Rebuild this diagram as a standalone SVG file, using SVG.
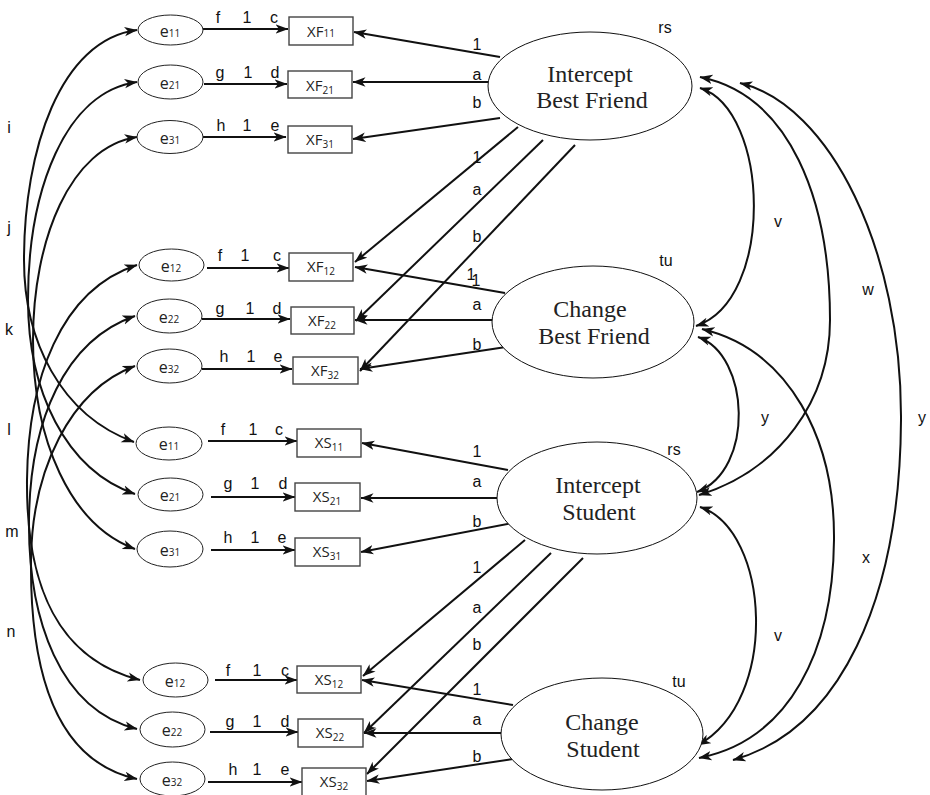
<svg xmlns="http://www.w3.org/2000/svg" width="930" height="795" viewBox="0 0 930 795">
<defs>
<marker id="ah" markerUnits="userSpaceOnUse" markerWidth="14" markerHeight="11" refX="12.5" refY="5" orient="auto-start-reverse">
<path d="M0,0.3 L13,5 L0,9.7 L3.5,5 z" fill="#111"/>
</marker>
<style>
.ln{fill:none;stroke:#111;stroke-width:2;marker-end:url(#ah)}
.dbl{fill:none;stroke:#111;stroke-width:2;marker-start:url(#ah);marker-end:url(#ah)}
.lat{fill:#fff;stroke:#111;stroke-width:1}
.err{fill:#fff;stroke:#222;stroke-width:1}
.box{fill:#fff;stroke:#444;stroke-width:1.4}
.t{font-family:"Liberation Sans",Arial,sans-serif;font-size:16px;fill:#111;text-anchor:middle}
.s{font-family:"Liberation Sans",Arial,sans-serif;font-size:16px;fill:#111;text-anchor:middle}
.big{font-family:"Liberation Serif","Times New Roman",serif;font-size:24px;fill:#222;text-anchor:middle}
.ev{font-family:"Open Sans",sans-serif;font-size:16px;fill:#222;text-anchor:middle}
.sub{font-size:10px}
.xv{font-family:"Open Sans",sans-serif;font-size:15px;fill:#222;text-anchor:middle}
</style>
</defs>
<rect width="930" height="795" fill="#fff"/>

<g id="connectors">
<path class="dbl" d="M137,30 C60,40 24,150 24,260 C24,340 60,415 134,442"/>
<path class="dbl" d="M137,82 C65,92 28,190 28,300 C28,390 65,470 135,494"/>
<path class="dbl" d="M137,137 C70,147 33,240 33,340 C33,440 70,525 135,549"/>
<path class="dbl" d="M137,265 C60,290 28,380 27,480 C26,590 60,660 140,680"/>
<path class="dbl" d="M135,316 C65,340 30,420 29,520 C28,620 60,710 137,729"/>
<path class="dbl" d="M135,366 C70,390 32,470 31,560 C30,660 50,760 137,779"/>
<line class="ln" x1="203" y1="29" x2="288" y2="29"/>
<line class="ln" x1="204" y1="84" x2="287" y2="84"/>
<line class="ln" x1="203" y1="137" x2="286" y2="137"/>
<line class="ln" x1="207" y1="268" x2="289" y2="268"/>
<line class="ln" x1="202" y1="319" x2="290" y2="319"/>
<line class="ln" x1="202" y1="369" x2="292" y2="369"/>
<line class="ln" x1="208" y1="441" x2="297" y2="441"/>
<line class="ln" x1="211" y1="497" x2="295" y2="497"/>
<line class="ln" x1="211" y1="550" x2="295" y2="550"/>
<line class="ln" x1="215" y1="680" x2="297" y2="680"/>
<line class="ln" x1="210" y1="732" x2="298" y2="732"/>
<line class="ln" x1="208" y1="782" x2="302" y2="782"/>
<line class="ln" x1="500" y1="57" x2="354" y2="32"/>
<line class="ln" x1="488" y1="82" x2="353" y2="82"/>
<line class="ln" x1="500" y1="118" x2="353" y2="139"/>
<line class="ln" x1="518" y1="127" x2="355" y2="262"/>
<line class="ln" x1="543" y1="140" x2="356" y2="321"/>
<line class="ln" x1="575" y1="145" x2="360" y2="371"/>
<line class="ln" x1="505" y1="293" x2="355" y2="267"/>
<line class="ln" x1="493" y1="320" x2="355" y2="320"/>
<line class="ln" x1="506" y1="347" x2="360" y2="369"/>
<line class="ln" x1="508" y1="470" x2="362" y2="443"/>
<line class="ln" x1="497" y1="498" x2="361" y2="498"/>
<line class="ln" x1="513" y1="523" x2="361" y2="552"/>
<line class="ln" x1="525" y1="540" x2="363" y2="676"/>
<line class="ln" x1="551" y1="553" x2="364" y2="733"/>
<line class="ln" x1="583" y1="558" x2="367" y2="774"/>
<line class="ln" x1="513" y1="705" x2="362" y2="680"/>
<line class="ln" x1="501" y1="733" x2="364" y2="733"/>
<line class="ln" x1="513" y1="759" x2="367" y2="781"/>
<path class="dbl" d="M700,88 C770,110 775,300 696,326"/>
<path class="dbl" d="M700,77 C790,95 830,200 830,320 C830,400 780,470 699,495"/>
<path class="dbl" d="M740,83 C830,105 902,250 901,420 C900,600 840,730 733,760"/>
<path class="dbl" d="M702,329 C790,350 835,440 834,540 C833,650 790,740 699,758"/>
<path class="dbl" d="M698,337 C750,355 755,470 697,492"/>
<path class="dbl" d="M700,507 C770,530 780,700 698,745"/>
</g>

<g id="connector-labels">
<text class="t" x="9" y="133">i</text>
<text class="t" x="9" y="233">j</text>
<text class="t" x="9" y="335">k</text>
<text class="t" x="9" y="435">l</text>
<text class="t" x="12" y="537">m</text>
<text class="t" x="11" y="637">n</text>

<text class="s" x="218" y="23">f</text><text class="s" x="247" y="23">1</text><text class="s" x="274" y="23">c</text>
<text class="s" x="220" y="78">g</text><text class="s" x="248" y="78">1</text><text class="s" x="275" y="78">d</text>
<text class="s" x="221" y="131">h</text><text class="s" x="247" y="131">1</text><text class="s" x="275" y="131">e</text>
<text class="s" x="220" y="261">f</text><text class="s" x="245" y="261">1</text><text class="s" x="277" y="261">c</text>
<text class="s" x="220" y="314">g</text><text class="s" x="250" y="314">1</text><text class="s" x="277" y="314">d</text>
<text class="s" x="224" y="362">h</text><text class="s" x="251" y="362">1</text><text class="s" x="278" y="362">e</text>
<text class="s" x="223" y="435">f</text><text class="s" x="253" y="435">1</text><text class="s" x="279" y="435">c</text>
<text class="s" x="228" y="489">g</text><text class="s" x="255" y="489">1</text><text class="s" x="283" y="489">d</text>
<text class="s" x="228" y="543">h</text><text class="s" x="255" y="543">1</text><text class="s" x="282" y="543">e</text>
<text class="s" x="228" y="676">f</text><text class="s" x="257" y="676">1</text><text class="s" x="285" y="676">c</text>
<text class="s" x="230" y="727">g</text><text class="s" x="257" y="727">1</text><text class="s" x="285" y="727">d</text>
<text class="s" x="233" y="775">h</text><text class="s" x="257" y="775">1</text><text class="s" x="285" y="775">e</text>

<text class="t" x="477" y="50">1</text>
<text class="t" x="477" y="80">a</text>
<text class="t" x="477" y="108">b</text>
<text class="t" x="477" y="163">1</text>
<text class="t" x="477" y="195">a</text>
<text class="t" x="477" y="242">b</text>
<text class="t" x="471" y="280">1</text>
<text class="t" x="476" y="286">1</text>
<text class="t" x="477" y="310">a</text>
<text class="t" x="477" y="350">b</text>
<text class="t" x="477" y="457">1</text>
<text class="t" x="477" y="487">a</text>
<text class="t" x="477" y="527">b</text>
<text class="t" x="477" y="573">1</text>
<text class="t" x="477" y="613">a</text>
<text class="t" x="477" y="650">b</text>
<text class="t" x="477" y="695">1</text>
<text class="t" x="477" y="725">a</text>
<text class="t" x="477" y="762">b</text>

<text class="t" x="665" y="33">rs</text>
<text class="t" x="666" y="266">tu</text>
<text class="t" x="674" y="455">rs</text>
<text class="t" x="679" y="687">tu</text>
<text class="t" x="778" y="227">v</text>
<text class="t" x="868" y="295">w</text>
<text class="t" x="765" y="423">y</text>
<text class="t" x="922" y="423">y</text>
<text class="t" x="866" y="563">x</text>
<text class="t" x="778" y="641">v</text>
</g>

<g id="IBF"><ellipse class="lat" cx="590" cy="86" rx="102" ry="54"/><text class="big" x="590" y="82">Intercept</text><text class="big" x="592" y="108">Best Friend</text></g>
<g id="CBF"><ellipse class="lat" cx="593" cy="322" rx="101" ry="56"/><text class="big" x="590" y="317">Change</text><text class="big" x="594" y="344">Best Friend</text></g>
<g id="IS"><ellipse class="lat" cx="597" cy="498" rx="100" ry="56"/><text class="big" x="598" y="493">Intercept</text><text class="big" x="599" y="520">Student</text></g>
<g id="CS"><ellipse class="lat" cx="602" cy="734" rx="101" ry="56"/><text class="big" x="602" y="730">Change</text><text class="big" x="603" y="757">Student</text></g>

<g id="eF11"><ellipse class="err" cx="170.5" cy="30" rx="32.5" ry="15"/><text class="ev" x="170" y="37">e<tspan class="sub">11</tspan></text></g>
<g id="eF21"><ellipse class="err" cx="170.5" cy="82" rx="32.5" ry="17"/><text class="ev" x="170" y="89">e<tspan class="sub">21</tspan></text></g>
<g id="eF31"><ellipse class="err" cx="170" cy="137" rx="33" ry="16.5"/><text class="ev" x="170" y="144">e<tspan class="sub">31</tspan></text></g>
<g id="eF12"><ellipse class="err" cx="171.5" cy="265" rx="32.5" ry="16"/><text class="ev" x="171" y="272">e<tspan class="sub">12</tspan></text></g>
<g id="eF22"><ellipse class="err" cx="169.5" cy="316" rx="32.5" ry="17"/><text class="ev" x="169" y="323">e<tspan class="sub">22</tspan></text></g>
<g id="eF32"><ellipse class="err" cx="169.5" cy="366" rx="32.5" ry="17"/><text class="ev" x="169" y="373">e<tspan class="sub">32</tspan></text></g>
<g id="eS11"><ellipse class="err" cx="169" cy="443.5" rx="33" ry="16.5"/><text class="ev" x="169" y="450">e<tspan class="sub">11</tspan></text></g>
<g id="eS21"><ellipse class="err" cx="170.5" cy="494.5" rx="32.5" ry="16.5"/><text class="ev" x="170" y="501">e<tspan class="sub">21</tspan></text></g>
<g id="eS31"><ellipse class="err" cx="170" cy="549" rx="33" ry="18"/><text class="ev" x="170" y="556">e<tspan class="sub">31</tspan></text></g>
<g id="eS12"><ellipse class="err" cx="175.5" cy="680" rx="32.5" ry="17"/><text class="ev" x="175" y="687">e<tspan class="sub">12</tspan></text></g>
<g id="eS22"><ellipse class="err" cx="172.5" cy="729.5" rx="32.5" ry="17.5"/><text class="ev" x="172" y="736">e<tspan class="sub">22</tspan></text></g>
<g id="eS32"><ellipse class="err" cx="172.5" cy="779" rx="32.5" ry="17"/><text class="ev" x="172" y="786">e<tspan class="sub">32</tspan></text></g>

<g id="XF11"><rect class="box" x="289" y="17" width="64" height="28"/><text class="xv" x="321" y="37">XF<tspan class="sub">11</tspan></text></g>
<g id="XF21"><rect class="box" x="288" y="71" width="64" height="27"/><text class="xv" x="320" y="91">XF<tspan class="sub" dy="3">21</tspan></text></g>
<g id="XF31"><rect class="box" x="288" y="126" width="64" height="27"/><text class="xv" x="320" y="145">XF<tspan class="sub" dy="3">31</tspan></text></g>
<g id="XF12"><rect class="box" x="289" y="253" width="64" height="28"/><text class="xv" x="321" y="272">XF<tspan class="sub" dy="3">12</tspan></text></g>
<g id="XF22"><rect class="box" x="291" y="307" width="63" height="27"/><text class="xv" x="322" y="326">XF<tspan class="sub" dy="3">22</tspan></text></g>
<g id="XF32"><rect class="box" x="293" y="357" width="65" height="27"/><text class="xv" x="325" y="376">XF<tspan class="sub" dy="3">32</tspan></text></g>
<g id="XS11"><rect class="box" x="297" y="429" width="64" height="28"/><text class="xv" x="329" y="448">XS<tspan class="sub" dy="3">11</tspan></text></g>
<g id="XS21"><rect class="box" x="295" y="483" width="65" height="28"/><text class="xv" x="327" y="502">XS<tspan class="sub" dy="3">21</tspan></text></g>
<g id="XS31"><rect class="box" x="295" y="538" width="65" height="28"/><text class="xv" x="327" y="557">XS<tspan class="sub" dy="3">31</tspan></text></g>
<g id="XS12"><rect class="box" x="297" y="666" width="64" height="27"/><text class="xv" x="329" y="685">XS<tspan class="sub" dy="3">12</tspan></text></g>
<g id="XS22"><rect class="box" x="298" y="719" width="65" height="28"/><text class="xv" x="330" y="738">XS<tspan class="sub" dy="3">22</tspan></text></g>
<g id="XS32"><rect class="box" x="302" y="768" width="64" height="29"/><text class="xv" x="334" y="787">XS<tspan class="sub" dy="3">32</tspan></text></g>
</svg>
